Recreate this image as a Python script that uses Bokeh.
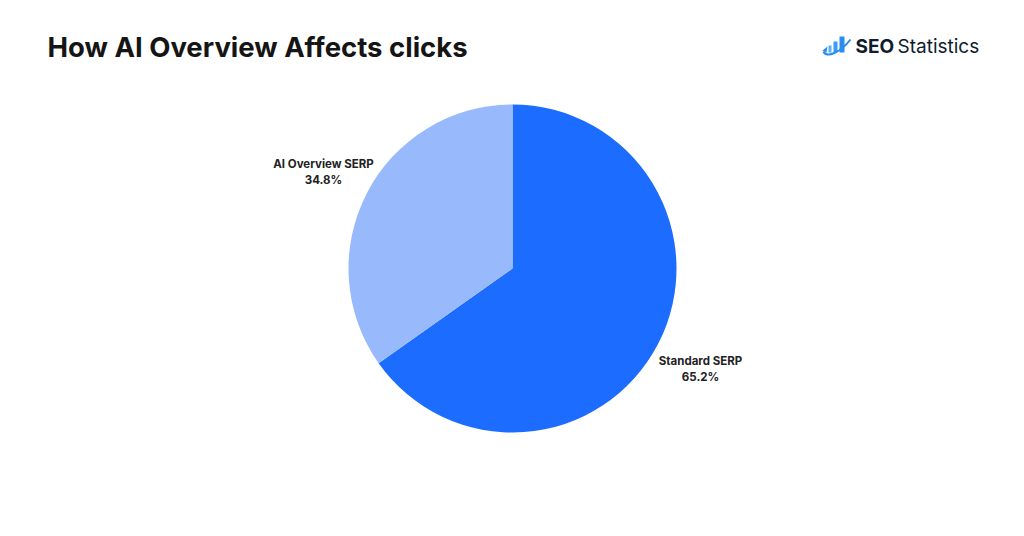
import math
from bokeh.plotting import figure
from bokeh.models import ColumnDataSource
from bokeh.core.properties import value
from bokeh.embed import file_html
from bokeh.resources import INLINE

# ---- data ----
categories = ["Standard SERP", "AI Overview SERP"]
shares = [65.2, 34.8]
colors = ["#1b6cff", "#98b9fb"]
title_text = "How AI Overview Affects clicks"

W, H = 1008, 520
p = figure(width=W, height=H, x_range=(0, W), y_range=(0, H),
           output_backend="svg", toolbar_location=None, min_border=0)
p.axis.visible = False
p.grid.visible = False
p.outline_line_color = None
p.background_fill_color = "white"
p.border_fill_color = "white"

# pie (start at 12 o'clock, clockwise)
cx, cy, r = 512, 252, 164
total = sum(shares)
starts, ends = [], []
acc = 0.0
for s in shares:
    a0 = math.pi / 2 - acc / total * 2 * math.pi
    acc += s
    a1 = math.pi / 2 - acc / total * 2 * math.pi
    starts.append(a0)
    ends.append(a1)
src = ColumnDataSource(dict(x=[cx] * len(shares), y=[cy] * len(shares),
                            start=starts, end=ends, color=colors,
                            cat=categories, share=shares))
p.wedge(x="x", y="y", radius=r, radius_units="screen", start_angle="start",
        end_angle="end", direction="clock", fill_color="color",
        line_color=None, source=src)

# labels (positions are layout)
label_pos = {"Standard SERP": (700, 160), "AI Overview SERP": (323, 357)}
for c, s in zip(categories, shares):
    lx, ly = label_pos[c]
    p.text(x=[lx], y=[ly], text=[c], text_align="center", text_baseline="middle",
           text_font=value("Inter"), text_font_style="bold",
           text_font_size="11.5px", text_color="#222222")
    p.text(x=[lx], y=[ly - 16], text=[f"{s}%"], text_align="center",
           text_baseline="middle", text_font=value("Inter"),
           text_font_style="bold", text_font_size="11.5px", text_color="#222222")

# title
p.text(x=[47], y=[474], text=[title_text], text_align="left",
       text_baseline="alphabetic", text_font=value("Inter"),
       text_font_style="bold", text_font_size="27.5px", text_color="#151515")

# logo
p.text(x=[855], y=[474], text=["SEO"], text_align="left",
       text_baseline="alphabetic", text_font=value("Inter"),
       text_font_style="bold", text_font_size="19px", text_color="#0e1c2c")
p.text(x=[897], y=[474], text=["Statistics"], text_align="left",
       text_baseline="alphabetic", text_font=value("Inter"),
       text_font_style="normal", text_font_size="19px", text_color="#0e1c2c")
p.quad(left=[828, 833, 839], right=[831, 837, 844], bottom=[468, 468, 468],
       top=[475, 479, 484], fill_color=["#5ab0f5", "#3a9cf2", "#2a8cef"],
       line_color=None)
p.bezier(x0=[823], y0=[469], x1=[850], y1=[481], cx0=[826], cy0=[462],
         cx1=[840], cy1=[468], line_color="#2a8cef", line_width=2)
p.patch(x=[822, 827, 826], y=[470, 474, 468], fill_color="#2a8cef", line_color=None)

open("out.html", "w").write(file_html(p, INLINE))
